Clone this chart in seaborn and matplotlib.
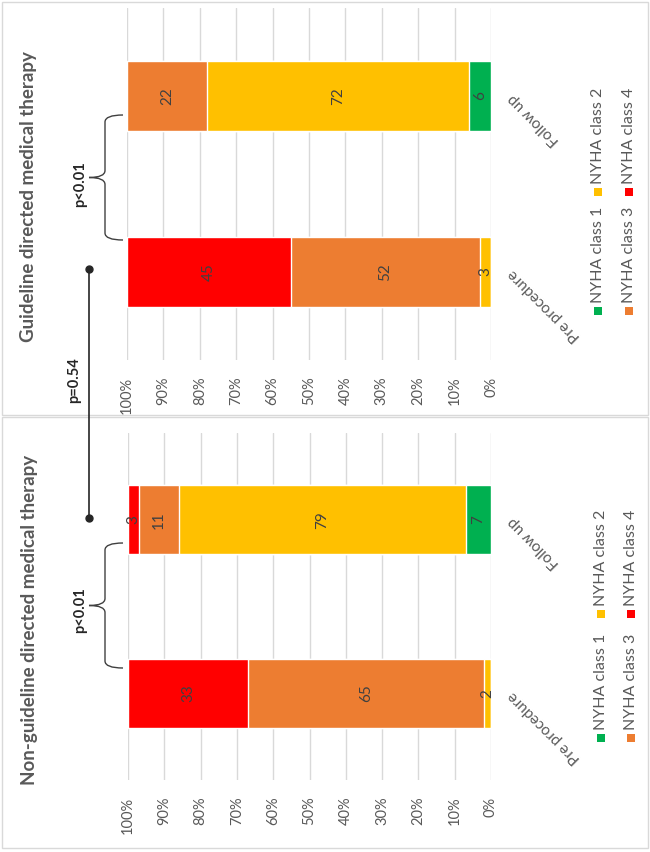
import numpy as np
import pandas as pd
import seaborn as sns
import matplotlib.pyplot as plt
from matplotlib.patches import Rectangle, PathPatch
from matplotlib.path import Path
from matplotlib.lines import Line2D

# Data (percent of patients per NYHA class)
timepoints = ['Pre procedure', 'Follow up']
nyha_classes = ['NYHA class 1', 'NYHA class 2', 'NYHA class 3', 'NYHA class 4']
nyha_colors = ['#00B050', '#FFC000', '#ED7D31', '#FF0000']

non_gdmt_pre = [0, 2, 65, 33]
non_gdmt_follow = [7, 79, 11, 3]
gdmt_pre = [0, 3, 52, 45]
gdmt_follow = [6, 72, 22, 0]

pct_ticks = list(range(0, 101, 10))

W, H = 650, 852
GRAY = '#595959'


def fx(x):
    return x / W


def fy(y):
    return 1 - y / H


sns.set_style('white')
plt.rcParams['font.family'] = ['Lato', 'DejaVu Sans']

fig = plt.figure(figsize=(6.5, 8.52), dpi=100)


def make_df(pre, follow):
    rows = []
    for t, vals in zip(timepoints, [pre, follow]):
        cum = np.cumsum(vals)
        for c, v, s in zip(nyha_classes, vals, cum):
            rows.append({'time': t, 'nyha': c, 'value': v, 'cum': s})
    return pd.DataFrame(rows)


def draw_panel(box, pre, follow):
    x0, y0, x1, y1 = box
    ax = fig.add_axes([fx(x0), fy(y1), (x1 - x0) / W, (y1 - y0) / H])
    df = make_df(pre, follow)
    order = ['Follow up', 'Pre procedure']
    # stacked bars: draw cumulative totals from the top class down
    for c, col in reversed(list(zip(nyha_classes, nyha_colors))):
        sub = df[df['nyha'] == c]
        sns.barplot(data=sub, x='cum', y='time', order=order, color=col,
                    saturation=1, width=0.4, ax=ax, orient='h')
    for _, r in df.iterrows():
        if r['value'] > 0:
            ax.text(r['cum'] - r['value'] / 2, order.index(r['time']), str(r['value']),
                    rotation=90, ha='center', va='center', fontsize=11, color='#404040')
    ax.set_xlim(100, 0)
    ax.set_xticks(pct_ticks)
    ax.set_xticklabels([f'{v}%' for v in pct_ticks], rotation=90)
    ax.grid(axis='x', color='#D9D9D9', lw=1)
    ax.set_axisbelow(True)
    ax.tick_params(axis='x', length=0, pad=12, labelsize=10.5, labelcolor=GRAY)
    ax.yaxis.tick_right()
    ax.set_yticks([0, 1])
    ax.set_yticklabels(order, rotation=135, rotation_mode='anchor', ha='right', va='center')
    ax.tick_params(axis='y', length=0, pad=14, labelsize=11, labelcolor=GRAY)
    ax.set_xlabel('')
    ax.set_ylabel('')
    sns.despine(ax=ax, left=True, bottom=True)
    return ax


def legend(x_cols, y_rows):
    # x_cols: centre x of the two columns, y_rows: marker centre y of the two rows
    for i, (c, col) in enumerate(zip(nyha_classes, nyha_colors)):
        xc = x_cols[i // 2]
        yc = y_rows[i % 2]
        s = 8
        fig.add_artist(Rectangle((fx(xc - s / 2), fy(yc + s / 2)), s / W, s / H,
                                 transform=fig.transFigure, color=col, lw=0))
        fig.text(fx(xc), fy(yc - 8), c, rotation=90, ha='center', va='bottom',
                 fontsize=11.5, color=GRAY)


def brace(x_line, x_end, x_tip, y_top, y_bot, r=7):
    ym = (y_top + y_bot) / 2
    pts = [(x_end, y_top), (x_line, y_top), (x_line, y_top + r), (x_line, ym - r),
           (x_line, ym), (x_tip, ym), (x_line, ym), (x_line, ym + r),
           (x_line, y_bot - r), (x_line, y_bot), (x_end, y_bot)]
    codes = [Path.MOVETO, Path.CURVE3, Path.CURVE3, Path.LINETO,
             Path.CURVE3, Path.CURVE3, Path.CURVE3, Path.CURVE3,
             Path.LINETO, Path.CURVE3, Path.CURVE3]
    path = Path([(fx(x), fy(y)) for x, y in pts], codes)
    fig.add_artist(PathPatch(path, transform=fig.transFigure, fill=False,
                             edgecolor='#404040', lw=1))


# panel frames
for y_a, y_b in [(2, 415), (417, 848)]:
    fig.add_artist(Rectangle((fx(2), fy(y_b)), (648 - 2) / W, (y_b - y_a) / H,
                             transform=fig.transFigure, fill=False,
                             edgecolor='#D9D9D9', lw=1))

# Guideline directed (top) and non-guideline (bottom) panels
draw_panel((127, 8, 491, 360), gdmt_pre, gdmt_follow)
draw_panel((128, 433, 491, 780), non_gdmt_pre, non_gdmt_follow)

fig.text(fx(29), fy(197), 'Guideline directed medical therapy', rotation=90,
         ha='center', va='center', fontsize=13.5, fontweight='bold', color=GRAY)
fig.text(fx(30), fy(620), 'Non-guideline directed medical therapy', rotation=90,
         ha='center', va='center', fontsize=13.5, fontweight='bold', color=GRAY)

legend((598, 629), (311, 192))
legend((601, 631), (738, 614))

# significance annotations
brace(105, 123, 89, 115, 240)
brace(105, 123, 89, 543, 668)
fig.text(fx(80), fy(184), 'p<0.01', rotation=90, ha='center', va='center',
         fontsize=10.5, fontweight='bold', color='#262626')
fig.text(fx(80), fy(610), 'p<0.01', rotation=90, ha='center', va='center',
         fontsize=10.5, fontweight='bold', color='#262626')

fig.add_artist(Line2D([fx(89), fx(89)], [fy(269), fy(518)], transform=fig.transFigure,
                      color='#262626', lw=1.2, marker='o', markersize=5))
fig.text(fx(74), fy(380), 'p=0.54', rotation=90, ha='center', va='center',
         fontsize=10.5, fontweight='bold', color='#262626')

fig.savefig('out.png', dpi=100)
